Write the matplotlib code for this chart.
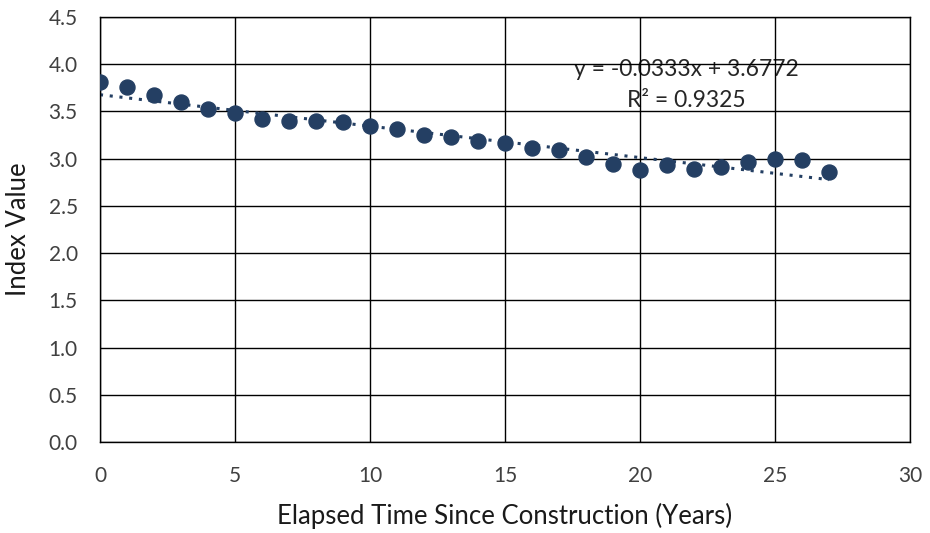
import numpy as np
import matplotlib.pyplot as plt

plt.rcParams['font.family'] = ['Lato', 'DejaVu Sans']

years = list(range(28))
index_value = [3.81, 3.755, 3.675, 3.60, 3.53, 3.48, 3.42, 3.40, 3.40, 3.39,
               3.35, 3.31, 3.255, 3.23, 3.19, 3.165, 3.11, 3.095, 3.02, 2.94,
               2.875, 2.93, 2.895, 2.91, 2.97, 3.00, 2.985, 2.86]

slope = -0.0333
intercept = 3.6772
r2 = 0.9325

color = '#243f63'

fig = plt.figure(figsize=(9.3, 5.33), dpi=100)
ax = fig.add_axes([100 / 930, 1 - 442 / 533, 810 / 930, 425 / 533])

# linear trend
xt = np.array([years[0], years[-1]])
ax.plot(xt, slope * xt + intercept, linestyle=(0, (1, 2.2)), color=color,
        linewidth=2.2, zorder=2)

ax.plot(years, index_value, 'o', color=color, markersize=10.8, zorder=3)

ax.set_xlim(0, 30)
ax.set_ylim(0, 4.5)
ax.set_xticks(range(0, 31, 5))
ax.set_yticks(np.arange(0, 4.51, 0.5))
ax.yaxis.set_major_formatter(plt.FormatStrFormatter('%.1f'))
ax.tick_params(length=0, labelsize=15, colors='#404040')
ax.tick_params(axis='y', pad=16)
ax.tick_params(axis='x', pad=17)

ax.grid(True, color='black', linewidth=1)
for s in ax.spines.values():
    s.set_color('black')
    s.set_linewidth(1)

ax.set_xlabel('Elapsed Time Since Construction (Years)', fontsize=18.5,
              color='#1a1a1a')
ax.set_ylabel('Index Value', fontsize=18.5, color='#1a1a1a')
ax.xaxis.set_label_coords(0.5, -(503 - 442) / 425)
ax.yaxis.set_label_coords(-(100 - 31) / 810, 0.5)

ax.text(21.7, 3.94, f'y = {slope:.4f}x + {intercept:.4f}', ha='center',
        va='center', fontsize=16.5, color='#262626', zorder=1)
ax.text(21.7, 3.62, f'R\u00b2 = {r2:.4f}', ha='center', va='center',
        fontsize=16.5, color='#262626', zorder=1)

fig.savefig('out.png', dpi=100)
